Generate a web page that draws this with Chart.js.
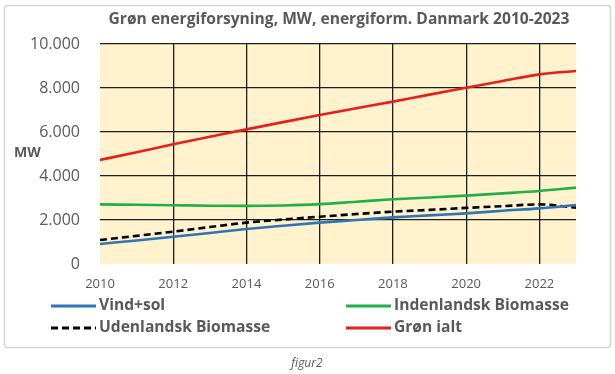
<!DOCTYPE html>
<html>
<head>
<meta charset="utf-8">
<script src="https://cdn.jsdelivr.net/npm/chart.js@4.4.1/dist/chart.umd.min.js"></script>
<style>
body { margin: 0; background: #fff; }
canvas { display: block; }
</style>
</head>
<body>
<canvas id="energyChart" width="615" height="374"></canvas>
<script>
/* Data */
let years = [2010, 2011, 2012, 2013, 2014, 2015, 2016, 2017, 2018, 2019, 2020, 2021, 2022, 2023];
let vindSol = [910, 1070, 1240, 1410, 1590, 1740, 1880, 2000, 2120, 2210, 2300, 2420, 2530, 2680];
let indenlandsk = [2710, 2690, 2670, 2650, 2640, 2660, 2720, 2830, 2940, 3020, 3110, 3210, 3320, 3470];
let udenlandsk = [1090, 1280, 1470, 1680, 1880, 2020, 2150, 2270, 2380, 2460, 2550, 2630, 2710, 2560];
let gronIalt = [4730, 5080, 5440, 5780, 6120, 6450, 6770, 7080, 7380, 7700, 8010, 8320, 8620, 8770];

let seriesLabels = ["Vind+sol", "Indenlandsk Biomasse", "Udenlandsk Biomasse", "Grøn ialt"];
let title = "Grøn energiforsyning, MW, energiform. Danmark 2010-2023";

function points(values) {
    return years.map(function (y, i) { return { x: y, y: values[i] }; });
}

function dotted(v) {
    return String(v).replace(/\B(?=(\d{3})+(?!\d))/g, ".");
}

/* Frame, title, MW label, legend, caption */
const decorations = {
    id: "decorations",
    beforeDraw(chart) {
        const ctx = chart.ctx;
        const a = chart.chartArea;
        ctx.save();
        ctx.fillStyle = "#fff";
        ctx.fillRect(0, 0, chart.width, chart.height);
        ctx.strokeStyle = "#d4d4d4";
        ctx.lineWidth = 1.5;
        ctx.beginPath();
        ctx.roundRect(4.5, 5.5, 606, 342, 3);
        ctx.stroke();
        ctx.fillStyle = "#FFF2CC";
        ctx.fillRect(a.left, a.top, a.right - a.left, a.bottom - a.top);
        ctx.restore();
    },
    afterDraw(chart) {
        const ctx = chart.ctx;
        ctx.save();
        ctx.textBaseline = "middle";

        ctx.fillStyle = "#595959";
        ctx.font = "bold 15.6px 'Open Sans'";
        ctx.textAlign = "center";
        ctx.fillText(title, 339, 20);

        ctx.fillStyle = "#595959";
        ctx.font = "bold 14px 'Open Sans'";
        ctx.textAlign = "left";
        ctx.fillText("MW", 14, 153);

        // legend, two columns
        const spots = [[51, 306], [346, 306], [51, 328], [346, 328]];
        chart.data.datasets.forEach(function (ds, i) {
            const p = spots[i];
            ctx.strokeStyle = ds.borderColor;
            ctx.lineWidth = 3;
            ctx.setLineDash(ds.borderDash || []);
            ctx.beginPath();
            ctx.moveTo(p[0], p[1]);
            ctx.lineTo(p[0] + 45, p[1]);
            ctx.stroke();
            ctx.setLineDash([]);
            ctx.fillStyle = "#595959";
            ctx.font = "bold 15.6px 'Open Sans'";
            ctx.fillText(ds.label, p[0] + 48, p[1]);
        });

        ctx.fillStyle = "#595959";
        ctx.font = "italic 12px 'Open Sans'";
        ctx.textAlign = "center";
        ctx.fillText("figur2", 307, 364);
        ctx.restore();
    }
};

new Chart("energyChart", {
    type: "line",
    data: {
        datasets: [{
            label: seriesLabels[0],
            data: points(vindSol),
            borderColor: "#2E75B6",
        }, {
            label: seriesLabels[1],
            data: points(indenlandsk),
            borderColor: "#1FB04A",
        }, {
            label: seriesLabels[2],
            data: points(udenlandsk),
            borderColor: "#000000",
            borderDash: [7, 4],
        }, {
            label: seriesLabels[3],
            data: points(gronIalt),
            borderColor: "#E3201B",
        }]
    },
    options: {
        responsive: false,
        animation: false,
        elements: {
            point: { radius: 0 },
            line: { borderWidth: 2.6, cubicInterpolationMode: "monotone", fill: false }
        },
        layout: { padding: { top: 44, right: 39, left: 0, bottom: 0 } },
        plugins: {
            legend: { display: false },
            tooltip: { enabled: false }
        },
        scales: {
            x: {
                type: "linear",
                min: 2010,
                max: 2023,
                afterFit: function (s) { s.height = 110; },
                border: { display: false },
                grid: {
                    drawTicks: false,
                    lineWidth: 1.3,
                    color: function (c) { return c.tick && c.tick.value === 2010 ? "rgba(0,0,0,0)" : "#1e1e1e"; }
                },
                ticks: {
                    stepSize: 2,
                    includeBounds: false,
                    padding: 12,
                    color: "#595959",
                    font: { family: "'Open Sans'", size: 13 },
                    callback: function (v) { return String(v); }
                }
            },
            y: {
                min: 0,
                max: 10000,
                afterFit: function (s) { s.width = 100; },
                border: { display: false },
                grid: {
                    drawTicks: false,
                    lineWidth: 1.3,
                    color: function (c) { return c.tick && c.tick.value === 0 ? "rgba(0,0,0,0)" : "#1e1e1e"; }
                },
                ticks: {
                    stepSize: 2000,
                    padding: 20,
                    color: "#595959",
                    font: { family: "'Open Sans'", size: 16 },
                    callback: function (v) { return dotted(v); }
                }
            }
        }
    },
    plugins: [decorations]
});
</script>
</body>
</html>
